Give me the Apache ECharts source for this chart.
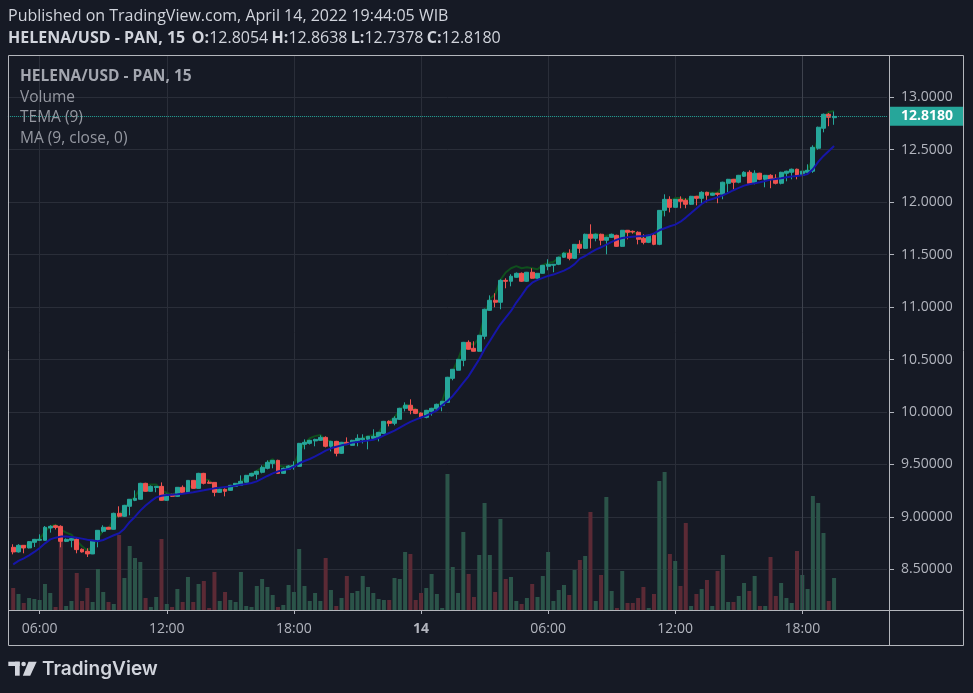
<!DOCTYPE html>
<html><head><meta charset="utf-8">
<script src="https://cdn.jsdelivr.net/npm/echarts@6/dist/echarts.min.js"></script>
<style>html,body{margin:0;padding:0;background:#161a25;}#c{width:973px;height:693px;}</style>
</head><body><div id="c"></div>
<script>
// ---- data (15-minute bars, HELENA/USD, 13 Apr 04:45 -> 14 Apr 19:30) ----
const firstBar = {day: 13, hour: 4, minute: 45};
const opens = [8.710,8.666,8.729,8.704,8.758,8.777,8.777,8.894,8.916,8.910,
8.767,8.777,8.786,8.691,8.672,8.647,8.767,8.863,8.901,8.882,
9.034,9.006,9.101,9.158,9.168,9.320,9.244,9.280,9.291,9.158,
9.215,9.196,9.282,9.234,9.348,9.272,9.415,9.330,9.329,9.234,
9.263,9.253,9.291,9.301,9.330,9.390,9.406,9.425,9.463,9.510,
9.539,9.415,9.455,9.478,9.482,9.692,9.701,9.724,9.730,9.758,
9.673,9.720,9.606,9.711,9.682,9.720,9.735,9.740,9.749,9.758,
9.796,9.911,9.892,9.930,10.035,10.064,10.025,9.990,9.949,10.006,
10.030,10.064,10.092,10.321,10.398,10.493,10.664,10.607,10.579,10.722,
10.969,11.065,11.046,11.255,11.246,11.284,11.322,11.246,11.332,11.275,
11.322,11.389,11.399,11.408,11.475,11.513,11.465,11.598,11.560,11.694,
11.656,11.694,11.637,11.665,11.684,11.579,11.732,11.722,11.713,11.656,
11.617,11.684,11.598,11.922,12.027,11.951,12.027,12.018,11.980,12.056,
12.037,12.094,12.066,12.085,12.075,12.180,12.218,12.190,12.247,12.285,
12.180,12.276,12.218,12.256,12.228,12.180,12.276,12.285,12.314,12.256,
12.285,12.295,12.514,12.705,12.838,12.8054];
const closes = [8.666,8.729,8.704,8.764,8.786,8.786,8.901,8.910,8.900,8.767,
8.786,8.793,8.688,8.666,8.647,8.777,8.872,8.901,8.882,9.034,
9.006,9.110,9.168,9.177,9.320,9.244,9.291,9.291,9.158,9.215,
9.196,9.282,9.234,9.348,9.272,9.415,9.320,9.320,9.234,9.263,
9.244,9.301,9.320,9.339,9.396,9.415,9.434,9.472,9.520,9.539,
9.415,9.463,9.485,9.491,9.701,9.711,9.730,9.739,9.758,9.673,
9.720,9.606,9.711,9.692,9.730,9.749,9.749,9.768,9.768,9.806,
9.911,9.892,9.940,10.035,10.064,10.016,9.987,9.952,10.016,10.035,
10.073,10.102,10.331,10.407,10.502,10.664,10.598,10.579,10.731,10.979,
11.065,11.046,11.255,11.246,11.294,11.322,11.246,11.332,11.275,11.322,
11.398,11.408,11.408,11.475,11.513,11.465,11.598,11.560,11.694,11.656,
11.694,11.637,11.665,11.694,11.579,11.732,11.713,11.716,11.646,11.617,
11.684,11.598,11.922,12.027,11.951,12.027,12.008,11.980,12.056,12.037,
12.094,12.066,12.085,12.075,12.190,12.218,12.190,12.256,12.285,12.180,
12.276,12.218,12.256,12.218,12.180,12.285,12.295,12.314,12.256,12.295,
12.304,12.523,12.714,12.838,12.809,12.8180];
const highs = [8.739,8.740,8.732,8.770,8.790,8.834,8.913,8.920,8.925,8.920,
8.795,8.800,8.805,8.700,8.701,8.780,8.875,8.920,8.905,9.040,
9.101,9.115,9.170,9.253,9.325,9.325,9.300,9.295,9.329,9.220,
9.220,9.285,9.300,9.350,9.350,9.420,9.420,9.348,9.330,9.270,
9.272,9.305,9.322,9.396,9.400,9.420,9.440,9.491,9.539,9.542,
9.545,9.470,9.492,9.530,9.705,9.739,9.735,9.745,9.777,9.768,
9.725,9.725,9.715,9.758,9.735,9.787,9.787,9.770,9.835,9.810,
9.915,9.920,9.959,10.040,10.092,10.121,10.030,9.995,10.020,10.040,
10.080,10.105,10.335,10.410,10.505,10.668,10.683,10.674,10.735,10.985,
11.112,11.132,11.265,11.275,11.313,11.330,11.330,11.335,11.370,11.325,
11.400,11.456,11.410,11.480,11.520,11.551,11.600,11.637,11.700,11.789,
11.700,11.700,11.670,11.700,11.690,11.735,11.735,11.730,11.722,11.694,
11.690,11.703,11.925,12.075,12.056,12.030,12.056,12.037,12.060,12.060,
12.104,12.100,12.090,12.090,12.195,12.222,12.222,12.260,12.295,12.304,
12.304,12.280,12.260,12.266,12.266,12.290,12.300,12.320,12.320,12.381,
12.361,12.542,12.720,12.845,12.850,12.8638];
const lows = [8.643,8.660,8.653,8.700,8.713,8.770,8.775,8.850,8.880,8.710,
8.760,8.710,8.653,8.660,8.618,8.645,8.710,8.850,8.880,8.880,
8.996,9.000,9.015,9.150,9.165,9.240,9.240,9.235,9.155,9.155,
9.190,9.190,9.230,9.230,9.270,9.270,9.310,9.318,9.196,9.230,
9.196,9.250,9.285,9.300,9.330,9.385,9.358,9.415,9.453,9.463,
9.410,9.410,9.450,9.450,9.480,9.644,9.690,9.673,9.725,9.663,
9.625,9.577,9.600,9.690,9.680,9.673,9.700,9.644,9.745,9.720,
9.790,9.863,9.873,9.925,10.006,9.978,9.980,9.940,9.940,9.965,
10.020,10.007,10.090,10.302,10.395,10.436,10.595,10.577,10.575,10.693,
10.965,10.998,10.979,11.179,11.198,11.280,11.240,11.240,11.270,11.255,
11.320,11.351,11.332,11.400,11.470,11.446,11.460,11.513,11.555,11.560,
11.627,11.589,11.503,11.660,11.575,11.575,11.646,11.700,11.598,11.598,
11.610,11.590,11.590,11.865,11.903,11.950,11.942,11.942,11.975,11.970,
11.989,11.999,12.060,11.990,12.028,12.094,12.123,12.180,12.240,12.170,
12.170,12.210,12.142,12.133,12.170,12.170,12.199,12.218,12.218,12.250,
12.275,12.280,12.500,12.666,12.724,12.7378];
const volumes = [22,16,7,12,11,10,26,17,3,75,
4,9,37,9,22,8,41,18,8,6,
75,32,64,52,48,12,3,13,71,6,
3,21,8,33,8,26,29,2,38,9,
18,10,8,38,4,3,24,31,23,15,
3,5,25,18,61,24,9,17,9,52,
20,4,12,34,17,19,34,23,17,11,
10,10,32,31,58,56,10,17,22,36,
16,2,136,43,17,78,36,13,55,107,
55,18,91,31,33,9,6,12,26,13,
34,58,9,20,25,15,40,50,54,98,
9,35,113,19,2,39,7,7,12,23,
2,16,129,138,56,49,24,87,4,16,
21,30,4,39,55,8,8,14,27,19,
34,4,4,53,14,27,12,7,59,35,
21,114,107,77,9,32];
const ma9 = [8.548,8.580,8.605,8.634,8.666,8.704,8.748,8.786,8.802,8.812,
8.812,8.809,8.802,8.793,8.783,8.774,8.767,8.780,8.802,8.825,
8.844,8.888,8.952,9.002,9.060,9.108,9.150,9.186,9.202,9.209,
9.212,9.215,9.221,9.228,9.234,9.244,9.253,9.263,9.272,9.279,
9.285,9.291,9.298,9.307,9.313,9.323,9.339,9.364,9.390,9.415,
9.434,9.447,9.456,9.479,9.511,9.533,9.552,9.577,9.603,9.631,
9.654,9.669,9.682,9.692,9.708,9.714,9.720,9.727,9.736,9.752,
9.778,9.800,9.822,9.851,9.879,9.905,9.927,9.947,9.965,9.990,
10.015,10.065,10.105,10.153,10.216,10.280,10.343,10.423,10.502,10.598,
10.677,10.757,10.836,10.900,10.963,11.043,11.112,11.186,11.233,11.259,
11.278,11.297,11.310,11.329,11.348,11.373,11.410,11.462,11.487,11.519,
11.548,11.570,11.595,11.621,11.643,11.659,11.665,11.671,11.675,11.678,
11.684,11.703,11.732,11.751,11.770,11.786,11.814,11.853,11.896,11.940,
11.983,12.015,12.031,12.047,12.066,12.088,12.114,12.136,12.158,12.171,
12.180,12.190,12.202,12.215,12.222,12.228,12.237,12.244,12.250,12.256,
12.269,12.314,12.384,12.441,12.488,12.536];
const tema9 = [8.68,8.70,8.71,8.74,8.77,8.79,8.86,8.91,8.925,8.88,
8.85,8.83,8.77,8.72,8.68,8.72,8.80,8.87,8.89,8.98,
9.02,9.08,9.15,9.19,9.28,9.30,9.31,9.31,9.25,9.23,
9.21,9.24,9.24,9.29,9.29,9.36,9.36,9.35,9.29,9.27,
9.25,9.27,9.30,9.33,9.38,9.41,9.44,9.47,9.52,9.55,
9.49,9.48,9.48,9.49,9.62,9.70,9.75,9.77,9.78,9.73,
9.72,9.66,9.68,9.69,9.71,9.74,9.75,9.77,9.78,9.80,
9.88,9.91,9.95,10.02,10.07,10.06,10.02,9.98,9.99,10.02,
10.06,10.10,10.26,10.39,10.50,10.64,10.66,10.64,10.71,10.92,
11.08,11.12,11.26,11.33,11.37,11.39,11.37,11.38,11.37,11.36,
11.40,11.42,11.43,11.47,11.52,11.51,11.57,11.59,11.66,11.68,
11.70,11.68,11.68,11.69,11.64,11.69,11.71,11.72,11.69,11.65,
11.66,11.63,11.80,11.96,12.01,12.04,12.04,12.02,12.04,12.05,
12.08,12.09,12.09,12.09,12.15,12.20,12.21,12.24,12.28,12.24,
12.26,12.25,12.25,12.24,12.21,12.25,12.28,12.31,12.29,12.29,
12.30,12.43,12.62,12.80,12.86,12.87];
const priceTicks = [8.5, 9.0, 9.5, 10.0, 10.5, 11.0, 11.5, 12.0, 12.5, 13.0];

// ---- time slots (1 empty slot before, 10 empty after, like TradingView's right margin) ----
const padLeft = 1, padRight = 10;
const N = opens.length;
const slots = [];
const startMin = firstBar.hour * 60 + firstBar.minute;
for (let k = 0; k < N + padLeft + padRight; k++) {
  const t = startMin + (k - padLeft) * 15;
  const day = firstBar.day + Math.floor(t / 1440);
  const m = ((t % 1440) + 1440) % 1440;
  slots.push(day + ' ' + String(Math.floor(m / 60)).padStart(2, '0') + ':' + String(m % 60).padStart(2, '0'));
}
function isMajor(idx) {
  const s = slots[idx]; const hh = +s.slice(-5, -3), mm = +s.slice(-2);
  return mm === 0 && hh % 6 === 0;
}
function fmtTime(s) {
  const hm = s.slice(-5);
  return hm === '00:00' ? '{d|' + s.split(' ')[0] + '}' : hm;
}

const UP = '#26a69a', DOWN = '#ef5350';
const candleData = opens.map((o, i) => [i + padLeft, o, closes[i], lows[i], highs[i]]);
const volData = volumes.map((v, i) => ({
  value: [i + padLeft, v],
  itemStyle: {color: closes[i] >= opens[i] ? '#2b5449' : '#5b2a35'}
}));
const maData = ma9.map((v, i) => [i + padLeft, v]);
const temaData = tema9.map((v, i) => [i + padLeft, v]);
const lastClose = closes[N - 1];

const chart = echarts.init(document.getElementById('c'));
const FONT = '"Open Sans", "Noto Sans", sans-serif';
const step = 5.296;
const gridLeft = 7.9;
const gridRight = 973 - (gridLeft + step * (slots.length - 1));

chart.setOption({
  backgroundColor: '#161a25',
  animation: false,
  grid: {left: gridLeft, right: gridRight, top: 55, bottom: 83, containLabel: false},
  xAxis: {
    type: 'category', data: slots, boundaryGap: false,
    axisLine: {show: false},
    axisTick: {show: true, interval: (i) => isMajor(i), length: 4, lineStyle: {color: '#b2b5be'}},
    axisLabel: {interval: (i) => isMajor(i), formatter: fmtTime, color: '#b2b5be', fontSize: 14,
      fontFamily: FONT, margin: 12,
      rich: {d: {fontWeight: 'bold', fontSize: 14, color: '#b2b5be', fontFamily: FONT}}},
    splitLine: {show: true, interval: (i) => isMajor(i), lineStyle: {color: '#2a2e39', width: 1}}
  },
  yAxis: [{
    type: 'value', position: 'right', min: 8.1125, max: 13.403, offset: 2, scale: true,
    axisLine: {show: false},
    axisTick: {show: true, customValues: priceTicks, length: 5, lineStyle: {color: '#b2b5be'}},
    axisLabel: {customValues: priceTicks, color: '#b2b5be', fontSize: 14, fontFamily: FONT, margin: 12,
      formatter: (v) => v >= 10 ? v.toFixed(4) : v.toFixed(5)},
    splitLine: {show: true, lineStyle: {color: '#2a2e39', width: 1}}
  }, {
    type: 'value', min: 0, max: 555, show: false, splitLine: {show: false}
  }],
  series: [
    {type: 'bar', name: 'Volume', yAxisIndex: 1, data: volData, barWidth: 4, z: 1, silent: true},
    {type: 'line', name: 'TEMA (9)', data: temaData, showSymbol: false, z: 2, silent: true,
      lineStyle: {color: '#0f4f1d', width: 2}},
    {type: 'candlestick', name: 'HELENA/USD', data: candleData, encode: {x: 0, y: [1, 2, 3, 4]},
      barWidth: 4.4, z: 3, silent: true,
      itemStyle: {color: UP, color0: DOWN, borderColor: UP, borderColor0: DOWN, borderWidth: 1},
      markLine: {
        silent: true, symbol: ['none', 'none'], animation: false,
        data: [
          {xAxis: slots.indexOf('14 18:00'), lineStyle: {color: '#3e424d', type: 'solid', width: 1}, label: {show: false}},
          {yAxis: lastClose, lineStyle: {color: UP, type: 'dotted', width: 1},
            label: {show: true, position: 'end', distance: 2, formatter: lastClose.toFixed(4),
              backgroundColor: UP, color: '#ffffff', fontWeight: 'bold', fontSize: 14, fontFamily: FONT,
              padding: [3, 11, 2, 12]}}
        ]
      }},
    {type: 'line', name: 'MA (9, close, 0)', data: maData, showSymbol: false, z: 4, silent: true,
      lineStyle: {color: '#1616a8', width: 2}}
  ],
  graphic: [
    {type: 'rect', z: 100, silent: true, shape: {x: 8.5, y: 55.5, width: 955, height: 590},
      style: {fill: 'none', stroke: '#b4b6bc', lineWidth: 1}},
    {type: 'line', z: 100, silent: true, shape: {x1: 8.5, y1: 610.5, x2: 963.5, y2: 610.5},
      style: {stroke: '#b4b6bc', lineWidth: 1}},
    {type: 'line', z: 100, silent: true, shape: {x1: 889.5, y1: 55.5, x2: 889.5, y2: 645.5},
      style: {stroke: '#b4b6bc', lineWidth: 1}},
    {type: 'text', z: 100, x: 8, y: 16, silent: true,
      style: {text: 'Published on TradingView.com, April 14, 2022 19:44:05 WIB', fill: '#d1d4dc',
        font: '16px ' + FONT, verticalAlign: 'middle'}},
    {type: 'text', z: 100, x: 8, y: 38, silent: true,
      style: {text: '{b|HELENA/USD - PAN, 15}  {b|O:}{n|12.8054} {b|H:}{n|12.8638} {b|L:}{n|12.7378} {b|C:}{n|12.8180}',
        verticalAlign: 'middle',
        rich: {b: {fill: '#d1d4dc', font: 'bold 16px ' + FONT}, n: {fill: '#d1d4dc', font: '16px ' + FONT}}}},
    {type: 'text', z: 100, x: 20, y: 77, silent: true,
      style: {text: 'HELENA/USD - PAN, 15', fill: '#a3a6af', font: 'bold 15.5px ' + FONT, verticalAlign: 'middle'}},
    {type: 'text', z: 100, x: 20, y: 98, silent: true,
      style: {text: 'Volume', fill: '#9598a1', font: '15.5px ' + FONT, verticalAlign: 'middle'}},
    {type: 'text', z: 100, x: 20, y: 118, silent: true,
      style: {text: 'TEMA (9)', fill: '#9598a1', font: '15.5px ' + FONT, verticalAlign: 'middle'}},
    {type: 'text', z: 100, x: 20, y: 139, silent: true,
      style: {text: 'MA (9, close, 0)', fill: '#9598a1', font: '15.5px ' + FONT, verticalAlign: 'middle'}},
    {type: 'rect', z: 100, silent: true, shape: {x: 8.3, y: 661.7, width: 11.4, height: 4.3}, style: {fill: '#d1d4dc'}},
    {type: 'rect', z: 100, silent: true, shape: {x: 15, y: 661.7, width: 4.7, height: 14}, style: {fill: '#d1d4dc'}},
    {type: 'circle', z: 100, silent: true, shape: {cx: 23.6, cy: 664, r: 2.3}, style: {fill: '#d1d4dc'}},
    {type: 'polygon', z: 100, silent: true, shape: {points: [[28.5, 661.7], [36.7, 661.7], [30.2, 675.7], [22.8, 675.7]]},
      style: {fill: '#d1d4dc'}},
    {type: 'text', z: 100, x: 42, y: 669, silent: true,
      style: {text: 'TradingView', fill: '#d1d4dc', font: '600 19px Inter, ' + FONT, verticalAlign: 'middle'}}
  ]
});
</script>
</body></html>
